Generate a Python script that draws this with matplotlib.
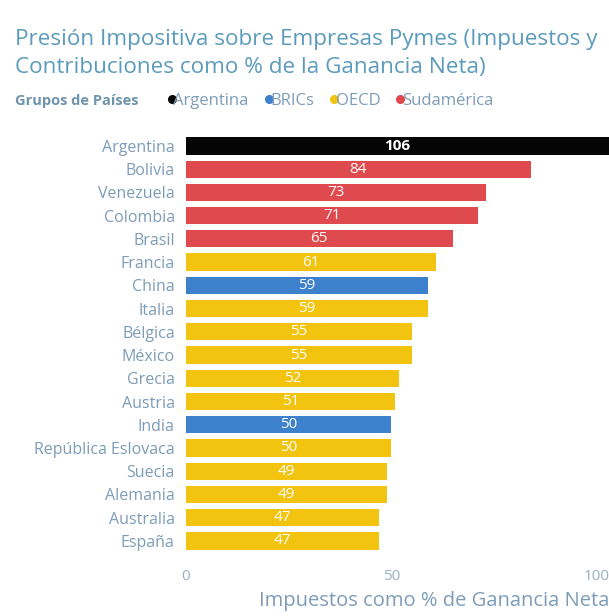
import matplotlib.pyplot as plt
from matplotlib.lines import Line2D

plt.rcParams['font.family'] = ['Open Sans', 'DejaVu Sans']

# data
paises = ['Argentina', 'Bolivia', 'Venezuela', 'Colombia', 'Brasil', 'Francia',
          'China', 'Italia', 'Bélgica', 'México', 'Grecia', 'Austria', 'India',
          'República Eslovaca', 'Suecia', 'Alemania', 'Australia', 'España']
valores = [106, 84, 73, 71, 65, 61, 59, 59, 55, 55, 52, 51, 50, 50, 49, 49, 47, 47]
grupos = ['Argentina', 'Sudamérica', 'Sudamérica', 'Sudamérica', 'Sudamérica', 'OECD',
          'BRICs', 'OECD', 'OECD', 'OECD', 'OECD', 'OECD', 'BRICs',
          'OECD', 'OECD', 'OECD', 'OECD', 'OECD']
nombres_grupos = ['Argentina', 'BRICs', 'OECD', 'Sudamérica']
colores = {'Argentina': '#050505', 'BRICs': '#3d80cc', 'OECD': '#f2c30f', 'Sudamérica': '#de4a4d'}
x_ticks = [0, 50, 100]

titulo_color = '#5b9bbc'
texto_color = '#7d9cb8'

fig = plt.figure(figsize=(6.09, 6.16), dpi=100)
ax = fig.add_axes([0.305, 0.103, 0.695, 0.679])

y = list(range(len(paises)))
ax.barh(y, valores, height=0.74, color=[colores[g] for g in grupos])
xmax = 103
ax.set_xlim(0, xmax)
ax.set_ylim(len(paises) - 0.5, -0.5)

# data labels centred in the visible part of each bar
for i, v in enumerate(valores):
    ax.text(min(v, xmax) / 2, i, str(v), ha='center', va='center',
            color='white', fontsize=11, fontweight='bold' if i == 0 else 'normal')

ax.set_yticks(y)
ax.set_yticklabels(paises, fontsize=11.5, color=texto_color)
ax.set_xticks(x_ticks)
ax.set_xticklabels([str(t) for t in x_ticks], fontsize=11, color='#9ab0c4')
ax.tick_params(length=0)
ax.tick_params(axis='y', pad=8)
ax.tick_params(axis='x', pad=12)
for s in ax.spines.values():
    s.set_visible(False)

ax.set_xlabel('Impuestos como % de Ganancia Neta', fontsize=14.5, color=texto_color,
              loc='right', labelpad=5)

fig.text(0.024, 0.936, 'Presión Impositiva sobre Empresas Pymes (Impuestos y',
         fontsize=16.2, color=titulo_color, va='center')
fig.text(0.024, 0.891, 'Contribuciones como % de la Ganancia Neta)',
         fontsize=16.2, color=titulo_color, va='center')

fig.text(0.024, 0.836, 'Grupos de Países', fontsize=10.5, fontweight='bold',
         color='#6f94ad', va='center')
handles = [Line2D([], [], marker='o', linestyle='', markersize=5.5,
                  color=colores[g]) for g in nombres_grupos]
leg = fig.legend(handles, nombres_grupos, loc='center left', bbox_to_anchor=(0.268, 0.836),
                 ncol=4, frameon=False, fontsize=12, handletextpad=-0.4,
                 columnspacing=0.7, handlelength=1.0, borderpad=0, borderaxespad=0)
for t in leg.get_texts():
    t.set_color(texto_color)

fig.savefig('out.png', dpi=100)
